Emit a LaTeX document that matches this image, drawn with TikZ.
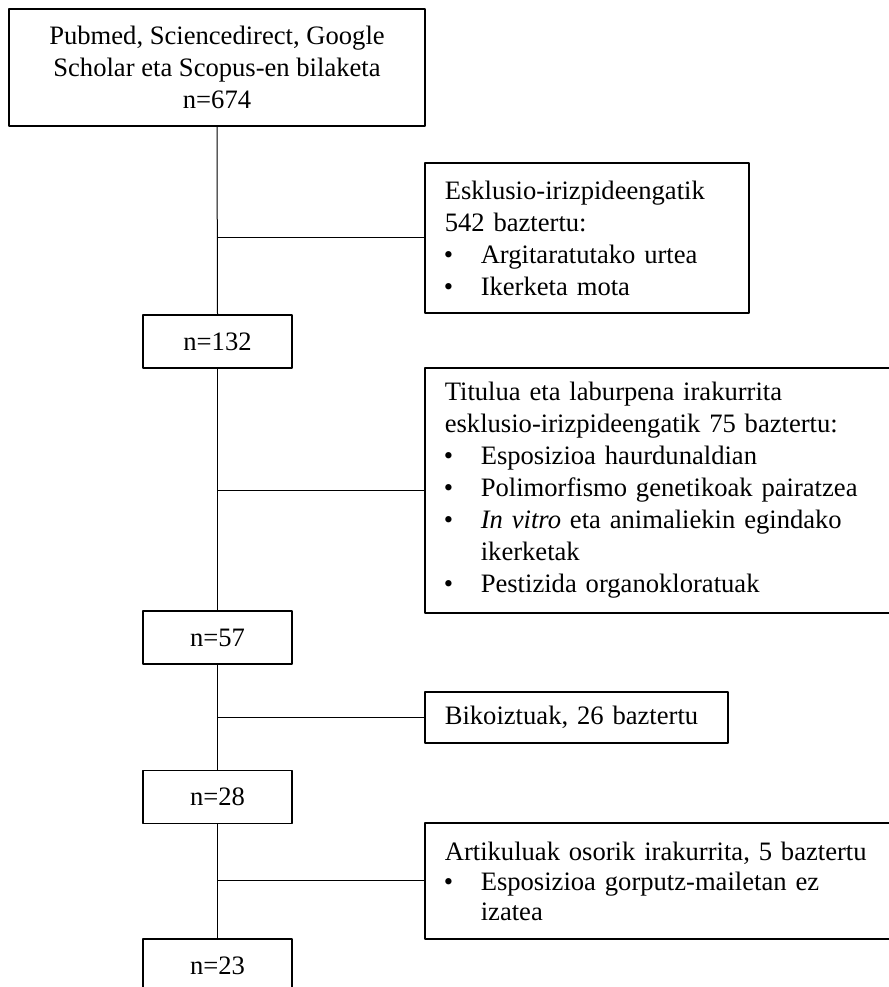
\documentclass[tikz,border=0pt]{standalone}
\usepackage{fontspec}
\setmainfont{Liberation Serif}
\usepackage{tikz}
\usetikzlibrary{positioning,calc}

\newcommand{\bul}{\makebox[18bp][l]{\hspace{-0.5bp}\textbullet}}

\begin{document}
\begin{tikzpicture}[line join=bevel,
  boks/.style={draw,line width=0.8bp,inner sep=0pt,font=\fontsize{13.3bp}{16bp}\selectfont},
  nbox/.style={boks,minimum width=74.5bp,minimum height=26.5bp},
  side/.style={boks,anchor=west,align=left,inner xsep=10bp},
  link/.style={line width=0.5bp}]
\useasboundingbox (0bp,0bp) rectangle (444.5bp,493.5bp);
\clip (0bp,0bp) rectangle (444.5bp,493.5bp);
% main column
\node[boks,align=center,minimum width=208bp,minimum height=58.5bp] (bilaketa) at (108.5bp,459.75bp)
  {Pubmed, Sciencedirect, Google\\Scholar eta Scopus-en bilaketa\\n=674};
\node[nbox] (n132) at (108.75bp,322.75bp) {n=132};
\node[nbox] (n57) at (108.75bp,174.75bp) {n=57};
\node[nbox] (n28) at (108.75bp,95bp) {n=28};
\node[nbox] (n23) at (108.75bp,10.75bp) {n=23};
% excluded
\node[side,text width=142bp,minimum height=75bp] (esk) at (212bp,374.5bp)
  {Esklusio-irizpideengatik\\542 baztertu:\\\bul Argitaratutako urtea\\\bul Ikerketa mota};
\node[side,text width=220.5bp,minimum height=122.5bp] (titulua) at (212bp,248.25bp)
  {Titulua eta laburpena irakurrita\\esklusio-irizpideengatik 75 baztertu:\\\bul Esposizioa haurdunaldian\\\bul Polimorfismo genetikoak pairatzea\\\bul \textit{In vitro} eta animaliekin egindako\\\hspace*{18bp}ikerketak\\\bul Pestizida organokloratuak};
\node[side,text width=131.5bp,minimum height=25.5bp] (bikoitz) at (212bp,134.75bp)
  {Bikoiztuak, 26 baztertu};
\node[side,text width=220.5bp,minimum height=58bp,font=\fontsize{13.3bp}{15bp}\selectfont] (artikulu) at (212bp,53bp)
  {Artikuluak osorik irakurrita, 5 baztertu\\\bul Esposizioa gorputz-mailetan ez\\\hspace*{18bp}izatea};
% connectors
\draw[link] (bilaketa.south) -- (n132.north);
\draw[link] (n132.south) -- (n57.north);
\draw[link] (n57.south) -- (n28.north);
\draw[link] (n28.south) -- (n23.north);
\draw[link] (esk.west) -- (esk.west -| bilaketa.south);
\draw[link] (titulua.west) -- (titulua.west -| n132.south);
\draw[link] (bikoitz.west) -- (bikoitz.west -| n57.south);
\draw[link] (artikulu.west) -- (artikulu.west -| n28.south);
\end{tikzpicture}
\end{document}
